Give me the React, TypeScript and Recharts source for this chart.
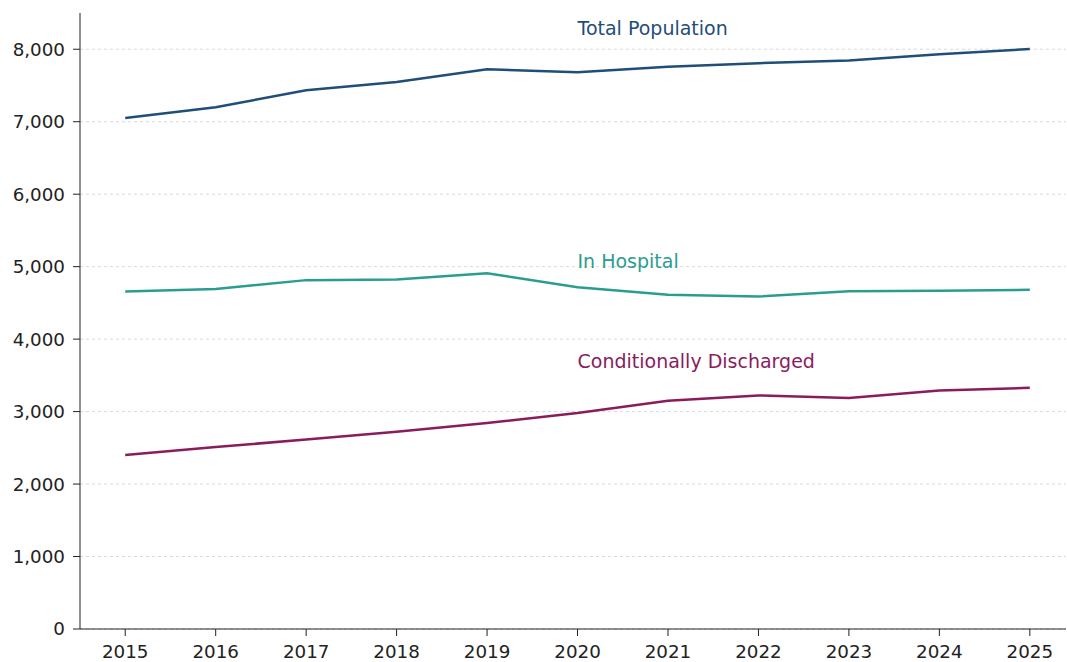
import React from 'react';
import { LineChart, Line, XAxis, YAxis, CartesianGrid, ReferenceDot } from 'recharts';

const years = [2015, 2016, 2017, 2018, 2019, 2020, 2021, 2022, 2023, 2024, 2025];
const totalPopulation = [7052, 7200, 7434, 7549, 7724, 7683, 7760, 7807, 7843, 7931, 8004];
const inHospital = [4657, 4690, 4814, 4822, 4910, 4717, 4611, 4588, 4662, 4667, 4680];
const conditionallyDischarged = [2400, 2510, 2615, 2721, 2841, 2979, 3149, 3223, 3186, 3291, 3328];
const yTicks = [0, 1000, 2000, 3000, 4000, 5000, 6000, 7000, 8000];

const seriesNames = ['Total Population', 'In Hospital', 'Conditionally Discharged'];
const seriesColors = ['#1f4e79', '#2a9d8f', '#8a1c5c'];
const labelYears = [2020, 2020, 2020];
const labelValues = [8294, 5080, 3701];

const data = years.map((y, i) => ({
  year: y,
  total: totalPopulation[i],
  hospital: inHospital[i],
  cond: conditionallyDischarged[i],
}));

const FONT = '"DejaVu Sans", sans-serif';

export default function App() {
  return (
    <div style={{ position: 'absolute', left: 0, top: 0, background: '#fff' }}>
      <LineChart width={1067} height={662} data={data} margin={{ top: 13, right: 1, bottom: 0, left: 0 }}>
        <CartesianGrid vertical={false} horizontalValues={yTicks} stroke="#d9d9d9" strokeDasharray="3 3" />
        <XAxis
          dataKey="year"
          type="number"
          domain={[2014.5, 2025.4]}
          allowDataOverflow
          ticks={years}
          tickFormatter={(v: number) => String(v)}
          height={33}
          tickSize={7}
          tickMargin={9}
          stroke="#222"
          tick={{ fill: '#222', fontSize: 18.3, fontFamily: FONT }}
        />
        <YAxis
          type="number"
          domain={[0, 8500]}
          ticks={yTicks}
          tickFormatter={(v: number) => v.toLocaleString('en-US')}
          width={80}
          tickSize={7}
          tickMargin={8}
          stroke="#222"
          tick={{ fill: '#222', fontSize: 18.3, fontFamily: FONT }}
        />
        <Line dataKey="total" stroke={seriesColors[0]} strokeWidth={2.5} dot={false} isAnimationActive={false} />
        <Line dataKey="hospital" stroke={seriesColors[1]} strokeWidth={2.5} dot={false} isAnimationActive={false} />
        <Line dataKey="cond" stroke={seriesColors[2]} strokeWidth={2.5} dot={false} isAnimationActive={false} />
        {seriesNames.map((name, i) => (
          <ReferenceDot
            key={name}
            x={labelYears[i]}
            y={labelValues[i]}
            r={0}
            shape={(p: any) => (
              <text
                x={p.cx}
                y={p.cy}
                dominantBaseline="central"
                textAnchor="start"
                fill={seriesColors[i]}
                fontSize={19}
                fontFamily={FONT}
              >
                {name}
              </text>
            )}
          />
        ))}
      </LineChart>
    </div>
  );
}
